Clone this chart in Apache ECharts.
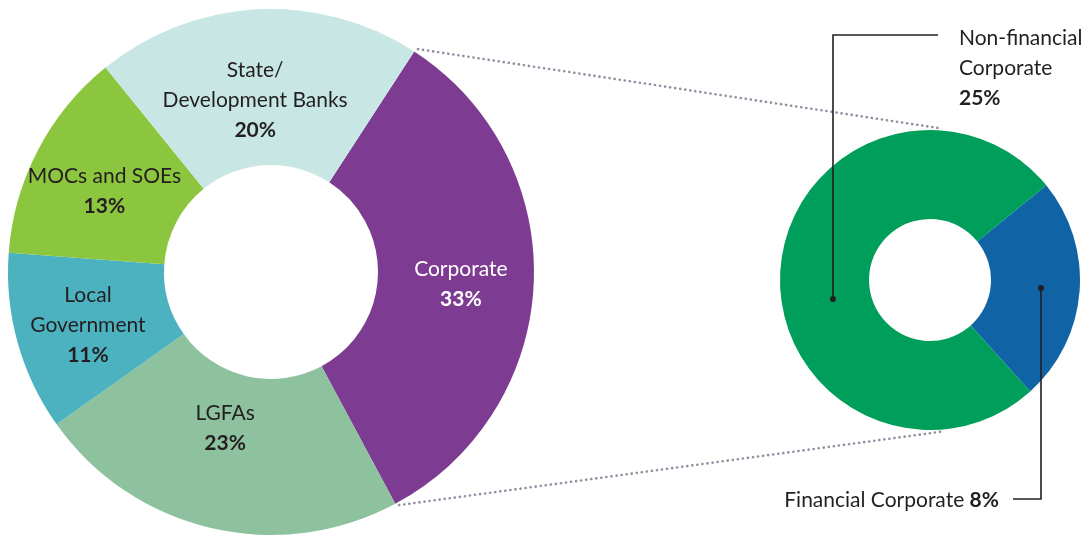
<!DOCTYPE html>
<html>
<head>
<meta charset="utf-8">
<script src="https://cdn.jsdelivr.net/npm/echarts@6/dist/echarts.min.js"></script>
<style>
  html, body { margin: 0; padding: 0; background: #fff; }
  #chart { width: 1089px; height: 536px; }
</style>
</head>
<body>
<div id="chart"></div>
<script>
// Datos del grafico principal (donut izquierdo)
const categorias = ['Corporate', 'LGFAs', 'Local Government', 'MOCs and SOEs', 'State/Development Banks'];
const etiquetas = ['Corporate', 'LGFAs', 'Local\nGovernment', 'MOCs and SOEs', 'State/\nDevelopment Banks'];
const valores = [33, 23, 11, 13, 20];

// Desglose de Corporate (donut derecho)
const subCategorias = ['Financial Corporate', 'Non-financial Corporate'];
const subValores = [8, 25];

// Estilos
const coloresIzq = ['#7d3c92', '#8ec19e', '#4db2bf', '#8cc63f', '#c8e7e4'];
const coloresDer = ['#1064a6', '#009e5b'];
const colorTexto = '#231f20';
const fuente = 'Lato';

// Geometria
const centroIzq = [271, 272];
const radioIzq = [107, 263];
const inicioIzq = 57;
const centroDer = [930, 280];
const radioDer = [61, 150];
const inicioDer = 39.2;

// Ajustes finos de las etiquetas internas (px)
const empujes = [[2, 4], [-3, -27], [-2, 3], [0, 6], [-6, 16]];

// Etiquetas del donut derecho con sus lineas guia
const anclas = [
    { x: 999, y: 500, align: 'right', punto: [1041, 288], linea: [[1041, 288], [1041, 499], [1013, 499]] },
    { x: 959, y: 68, align: 'left', punto: [833, 299], linea: [[833, 299], [833, 35], [938, 35]] }
];

// Punto sobre un arco, angulo en grados desde arriba en sentido horario
function puntoArco(c, r, ang) {
    const a = ang * Math.PI / 180;
    return [c[0] + r * Math.sin(a), c[1] - r * Math.cos(a)];
}

const total = valores.reduce((s, v) => s + v, 0);
const angIni = 90 - inicioIzq;
const angFin = angIni + 360 * valores[0] / total;
const p1 = puntoArco(centroIzq, radioIzq[1] + 4, angIni + 0.4);
const p2 = puntoArco(centroDer, radioDer[1] + 2, 4);
const p3 = puntoArco(centroIzq, radioIzq[1] + 3, angFin - 0.6);
const p4 = puntoArco(centroDer, radioDer[1] + 2, 175);

const estiloPunteado = {
    stroke: '#8f8e9e',
    lineWidth: 2.6,
    lineDash: [0.1, 5],
    lineCap: 'round'
};

const graficos = [
    { type: 'line', silent: true, shape: { x1: p1[0], y1: p1[1], x2: p2[0], y2: p2[1] }, style: estiloPunteado },
    { type: 'line', silent: true, shape: { x1: p3[0], y1: p3[1], x2: p4[0], y2: p4[1] }, style: estiloPunteado }
];
// Lineas guia y puntos encima de los sectores
anclas.forEach(a => {
    graficos.push({
        type: 'polyline', silent: true, z: 100,
        shape: { points: a.linea },
        style: { stroke: colorTexto, lineWidth: 1.6, fill: null }
    });
    graficos.push({
        type: 'circle', silent: true, z: 101,
        shape: { cx: a.punto[0], cy: a.punto[1], r: 3 },
        style: { fill: colorTexto }
    });
});

const chart = echarts.init(document.getElementById('chart'), null, { renderer: 'canvas' });

chart.setOption({
    animation: false,
    backgroundColor: '#fff',
    textStyle: { fontFamily: fuente },
    graphic: graficos,
    series: [
        {
            type: 'pie',
            silent: true,
            center: centroIzq,
            radius: radioIzq,
            startAngle: inicioIzq,
            clockwise: true,
            avoidLabelOverlap: false,
            data: categorias.map((n, i) => ({
                name: n,
                value: valores[i],
                itemStyle: { color: coloresIzq[i] },
                label: { color: i === 0 ? '#ffffff' : colorTexto }
            })),
            label: {
                show: true,
                position: 'inside',
                fontFamily: fuente,
                formatter: p => etiquetas[p.dataIndex].split('\n').map(t => '{n|' + t + '}').join('\n') + '\n{b|' + p.value + '%}',
                rich: {
                    n: { fontSize: 21, lineHeight: 30, fontFamily: fuente },
                    b: { fontSize: 21, lineHeight: 30, fontWeight: 'bold', fontFamily: fuente }
                }
            },
            labelLine: { show: false },
            labelLayout: function (p) {
                const d = empujes[p.dataIndex];
                return {
                    x: p.labelRect.x + p.labelRect.width / 2 + d[0],
                    y: p.labelRect.y + p.labelRect.height / 2 + d[1]
                };
            }
        },
        {
            type: 'pie',
            silent: true,
            center: centroDer,
            radius: radioDer,
            startAngle: inicioDer,
            clockwise: true,
            avoidLabelOverlap: false,
            data: subCategorias.map((n, i) => ({
                name: n,
                value: subValores[i],
                itemStyle: { color: coloresDer[i] }
            })),
            label: {
                show: true,
                position: 'outside',
                color: colorTexto,
                fontFamily: fuente,
                formatter: p => p.dataIndex === 0
                    ? '{n|Financial Corporate }{b|' + p.value + '%}'
                    : '{n|Non-financial}\n{n|Corporate}\n{b|' + p.value + '%}',
                rich: {
                    n: { fontSize: 21, lineHeight: 30, fontFamily: fuente },
                    b: { fontSize: 21, lineHeight: 30, fontWeight: 'bold', fontFamily: fuente }
                }
            },
            labelLine: { show: false },
            labelLayout: function (p) {
                const a = anclas[p.dataIndex];
                return { x: a.x, y: a.y, align: a.align, verticalAlign: 'middle' };
            }
        }
    ]
});
</script>
</body>
</html>
